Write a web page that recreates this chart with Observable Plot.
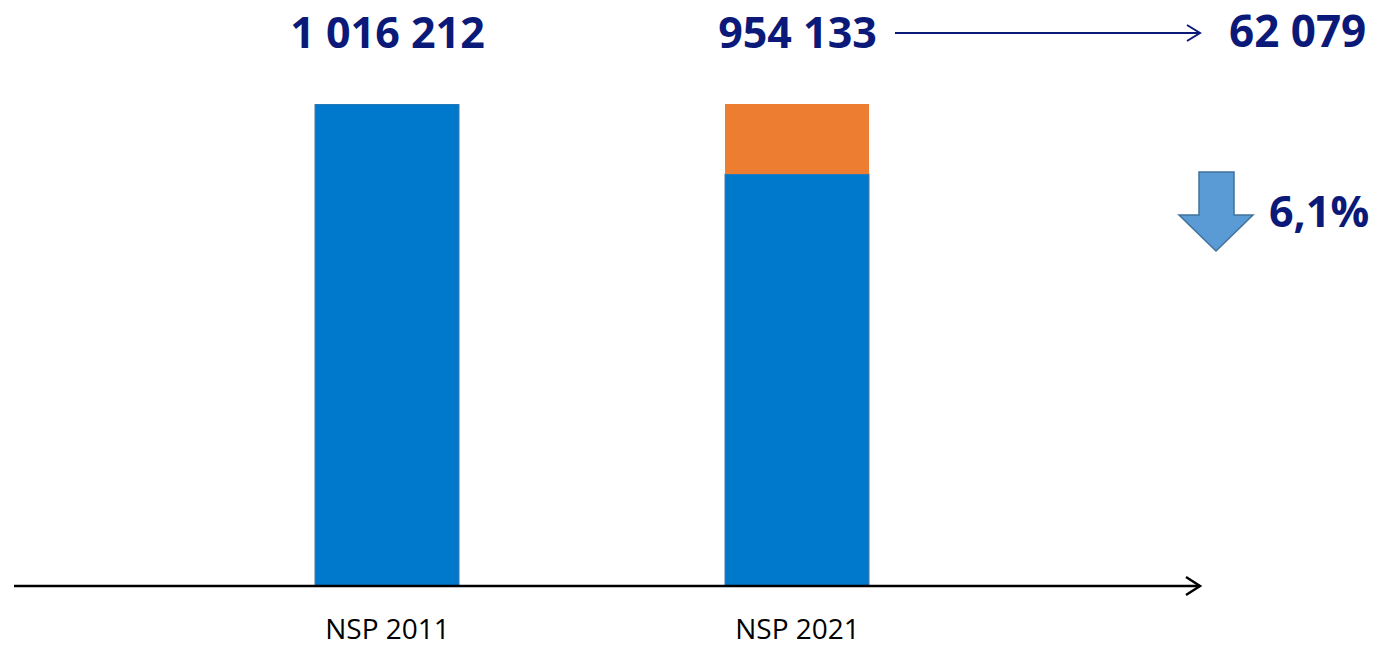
<!DOCTYPE html>
<html>
<head>
<meta charset="utf-8">
<script src="https://cdn.jsdelivr.net/npm/d3@7"></script>
<script src="https://cdn.jsdelivr.net/npm/@observablehq/plot@0.6"></script>
<style>
  html, body { margin: 0; padding: 0; background: #fff; }
  svg { display: block; }
</style>
</head>
<body>
<div id="chart"></div>
<script>
// ---- data ----
const categories = ["NSP 2011", "NSP 2021"];
const totals = [1016212, 954133];          // population at each census
const remaining = [1016212, 954133];       // blue part of each bar
const decrease = [0, 62079];               // orange part (loss since 2011)
const changeLabel = 62079;                 // absolute decrease

// ---- styling ----
const navy = "#0B1A78";
const blue = "#0078CC";
const orange = "#ED7D31";
const cz = d3.formatLocale({decimal: ",", thousands: " ", grouping: [3], currency: ["", " Kč"]});
const fmtInt = cz.format(",d");
const fmtPct = cz.format(".1%");

const yMin = 588000; // truncated baseline of the value scale
const yMax = d3.max(remaining.map((v, i) => v + decrease[i]));

const baseRows = categories.map((c, i) => ({cat: c, v: remaining[i]}));
const decRows = categories.map((c, i) => ({cat: c, y1: remaining[i], y2: remaining[i] + decrease[i]})).filter(d => d.y2 > d.y1);
const labelRows = categories.map((c, i) => ({cat: c, top: remaining[i] + decrease[i], label: fmtInt(totals[i])}));

const W = 1379, H = 647, mTop = 104, mBottom = 60;
const bigFont = 43;

const chart = Plot.plot({
  width: W, height: H,
  marginTop: mTop, marginBottom: mBottom, marginLeft: 0, marginRight: 0,
  style: {fontFamily: "'Open Sans', sans-serif", color: "#000", background: "#fff", overflow: "visible"},
  x: {domain: categories, range: [315, 869], paddingInner: 0.649, paddingOuter: 0, axis: null},
  y: {domain: [yMin, yMax], axis: null},
  marks: [
    Plot.barY(baseRows, {x: "cat", y: "v", fill: blue, stroke: "#4A78A4", strokeWidth: 1, clip: true}),
    Plot.barY(decRows, {x: "cat", y1: "y1", y2: "y2", fill: orange}),
    Plot.axisX({tickSize: 0, tickPadding: 32, fontSize: 28, fill: "#000", label: null}),
    Plot.text(labelRows, {x: "cat", y: "top", text: "label", dy: -57, lineAnchor: "bottom",
      fontSize: bigFont, fontWeight: 700, fill: navy, fontFamily: "'Open Sans', sans-serif"})
  ]
});
document.getElementById("chart").appendChild(chart);

// ---- annotations (positioned from the chart's scales) ----
const svg = d3.select(chart);
const xs = chart.scale("x");
const bar2Right = xs.apply(categories[1]) + xs.bandwidth;
const axisY = H - mBottom - 1;
const axisEnd = 1200;

// baseline axis with open arrowhead
svg.append("line").attr("x1", 14).attr("x2", axisEnd).attr("y1", axisY).attr("y2", axisY)
  .attr("stroke", "#000").attr("stroke-width", 2.5);
svg.append("polyline").attr("points", `${axisEnd-14},${axisY-9} ${axisEnd},${axisY} ${axisEnd-14},${axisY+9}`)
  .attr("fill", "none").attr("stroke", "#000").attr("stroke-width", 2.5);

// top arrow to the decrease value
const arrowY = 33;
svg.append("line").attr("x1", bar2Right + 26).attr("x2", axisEnd).attr("y1", arrowY).attr("y2", arrowY)
  .attr("stroke", navy).attr("stroke-width", 2);
svg.append("polyline").attr("points", `${axisEnd-13},${arrowY-8} ${axisEnd},${arrowY} ${axisEnd-13},${arrowY+8}`)
  .attr("fill", "none").attr("stroke", navy).attr("stroke-width", 2);

svg.append("text").attr("x", 1229).attr("y", 47).attr("fill", navy).attr("text-anchor", "start")
  .attr("font-size", bigFont + 1).attr("font-weight", 700).attr("font-family", "'Open Sans', sans-serif")
  .text(fmtInt(changeLabel));

// down block arrow
svg.append("polygon")
  .attr("points", "1199,172 1234,172 1234,215 1253,215 1216,251 1179,215 1199,215")
  .attr("fill", "#5B9BD5").attr("stroke", "#41719C").attr("stroke-width", 1.5);

svg.append("text").attr("x", 1269).attr("y", 227).attr("fill", navy).attr("text-anchor", "start")
  .attr("font-size", bigFont).attr("font-weight", 700).attr("font-family", "'Open Sans', sans-serif")
  .text(fmtPct(changeLabel / totals[0]));
</script>
</body>
</html>
